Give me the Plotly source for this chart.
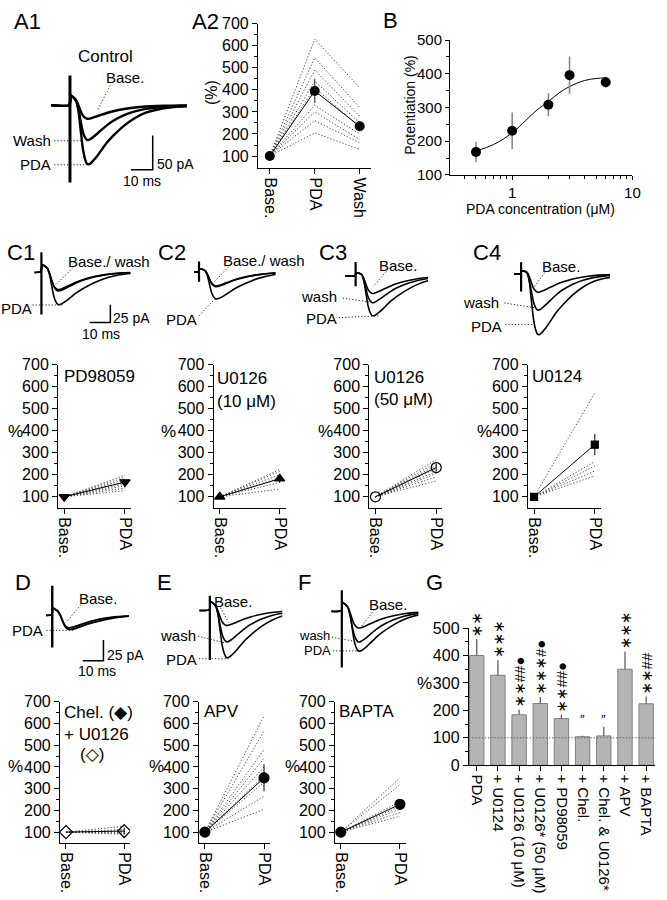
import numpy as np
import plotly.graph_objects as go

W, H = 667, 900
FONT = "Liberation Sans, Arial, DejaVu Sans, sans-serif"
DOT = "1.2px,2px"

# ------------------------------------------------------------------ DATA
# normalised EPSC waveform (time in ms from stimulus)
epsc_t = [-10, -0.3, 0.3, 1, 2, 3, 4, 5, 6, 7, 8, 9, 10, 12, 14, 17, 20, 25, 30, 35, 40, 47, 55, 65]
epsc_fast = [0, 0, 0, 0, 0, -0.02, -0.2, -0.5, -0.78, -0.93, -1.0, -0.99, -0.95, -0.85, -0.74,
             -0.58, -0.45, -0.29, -0.18, -0.11, -0.07, -0.04, -0.02, 0]
epsc_slow = [0, 0, 0, 0, 0, -0.02, -0.15, -0.45, -0.75, -0.92, -1.0, -1.0, -0.97, -0.89, -0.79,
             -0.64, -0.52, -0.35, -0.22, -0.13, -0.08, -0.04, -0.02, 0]
stim_hump = [0, 0, 1, 0.9, 0.7, 0.45, 0.2, 0.05, 0, 0, 0, 0, 0, 0, 0, 0, 0, 0, 0, 0, 0, 0, 0, 0]

# peak amplitudes (pA) per recording, stimulus artefact (+pA, -pA), post-stim hump (pA)
a1_peaks, a1_slow, a1_art, a1_hump = [20, 51, 86], [0, 0, 1], [43, 113], 14
c1_peaks, c1_slow, c1_art, c1_hump = [27, 25, 46], [0, 0, 1], [27, 60], 10
c2_peaks, c2_slow, c2_art, c2_hump = [21, 20, 38], [0, 0, 1], [14, 14], 4
c3_peaks, c3_slow, c3_art, c3_hump = [25, 38, 56], [0, 0, 1], [19, 15], 4
c4_peaks, c4_slow, c4_art, c4_hump = [26, 51, 85], [0, 0, 1], [16, 25], 4
d_peaks, d_slow, d_art, d_hump = [16, 18], [0, 1], [35, 40], 8
e_peaks, e_slow, e_art, e_hump = [19, 39, 58], [0, 0, 1], [17, 61], 10
f_peaks, f_slow, f_art, f_hump = [21, 38, 49], [0, 0, 1], [25, 69], 10

# A2
a2_cats = ["Base.", "PDA", "Wash"]
a2_mean = [100, 395, 235]
a2_sem = [0, 55, 22]
a2_cell_pda = [630, 545, 490, 440, 410, 330, 300, 260, 205]
a2_cell_wash = [410, 320, 280, 250, 230, 200, 175, 160, 130]

# B  dose-response
b_conc = [0.5, 1, 2, 3, 6]
b_pot = [168, 231, 308, 396, 375]
b_err = [30, 54, 34, 55, 16]
b_fit_x = [0.5, 0.7, 1, 1.3, 1.6, 2, 2.5, 3, 4, 5, 6]
b_fit_y = [171, 190, 225, 262, 292, 318, 345, 362, 380, 386, 388]

# paired Base./PDA panels
pair_cats = ["Base.", "PDA"]
c1_mean, c1_sem, c1_cells = [100, 167], 12, [128, 140, 150, 158, 168, 178, 188, 198]
c2_mean, c2_sem, c2_cells = [100, 182], 18, [135, 165, 185, 200, 215, 224]
c3_mean, c3_sem, c3_cells = [100, 233], 18, [172, 190, 205, 215, 228, 242, 255, 269]
c4_mean, c4_sem, c4_cells = [100, 337], 48, [195, 217, 240, 260, 572]
d_mean, d_sem, d_cells = [100, 105], 15, [90, 95, 100, 105, 112, 127]
e_mean, e_sem, e_cells = [100, 350], 62, [205, 265, 330, 360, 400, 440, 480, 565, 635]
f_mean, f_sem, f_cells = [100, 228], 20, [173, 190, 206, 218, 240, 318, 350]

# G summary
g_labels = ["PDA", "+ U0124", "+ U0126 (10 μM)", "+ U0126* (50 μM)", "+ PD98059",
            "+ Chel.", "+ Chel. & U0126*", "+ APV", "+ BAPTA"]
g_vals = [400, 328, 184, 225, 170, 104, 107, 350, 224]
g_err = [60, 55, 18, 24, 14, 4, 33, 65, 27]
g_marks = ["∗∗", "∗∗∗", "∗∗##●", "∗∗∗#●", "∗∗##●", "″", "″", "∗∗∗", "∗∗##"]

# ------------------------------------------------------------------ HELPERS
fig = go.Figure()
axes_layout = {}
annotations = []
shapes = []
HIDDEN = dict(visible=False, showgrid=False, zeroline=False)


def px_x(p):
    return p / W


def px_y(p):
    return 1 - p / H


def keys(i):
    s = "" if i == 1 else str(i)
    return "xaxis" + s, "yaxis" + s, "x" + s, "y" + s


def add_axes(i, xdom, ydom, xspec, yspec):
    xk, yk, xr, yr = keys(i)
    axes_layout[xk] = dict(domain=[max(0, xdom[0]), min(1, xdom[1])], anchor=yr, **xspec)
    axes_layout[yk] = dict(domain=[max(0, ydom[0]), min(1, ydom[1])], anchor=xr, **yspec)
    return xr, yr


def box_axes(i, l, t, r, b, xspec, yspec):
    return add_axes(i, [px_x(l), px_x(r)], [px_y(b), px_y(t)], xspec, yspec)


def txt(s, x, y, size=15, anchor="left", angle=0):
    annotations.append(dict(text=s, x=px_x(x), y=px_y(y), xref="paper", yref="paper",
                            xanchor=anchor, yanchor="middle", showarrow=False, textangle=angle,
                            borderpad=0, font=dict(size=size, color="black", family=FONT)))


def leader(x0, y0, x1, y1):
    shapes.append(dict(type="line", xref="paper", yref="paper", x0=px_x(x0), y0=px_y(y0),
                       x1=px_x(x1), y1=px_y(y1), line=dict(color="#222", width=1, dash=DOT)))


def trace_panel(i, g, peaks, slow, art, hump):
    t0, t1 = g["t"]
    lo = -max(art[1], max(peaks)) - 4
    hi = max(art[0], hump) + 4
    xdom = [px_x(g["x0"] + t0 * g["ms"]), px_x(g["x0"] + t1 * g["ms"])]
    ydom = [px_y(g["y0"] - lo * g["pa"]), px_y(g["y0"] - hi * g["pa"])]
    xr, yr = add_axes(i, xdom, ydom, dict(range=[t0, t1], **HIDDEN), dict(range=[lo, hi], **HIDDEN))
    t = np.array(epsc_t, float)
    for amp, s in zip(peaks, slow):
        shp = np.array(epsc_slow if s else epsc_fast)
        y = hump * np.array(stim_hump) + amp * shp
        fig.add_trace(go.Scatter(x=t, y=y, mode="lines", xaxis=xr, yaxis=yr, hoverinfo="skip",
                                 showlegend=False,
                                 line=dict(color="black", width=g["lw"], shape="spline", smoothing=0.6)))
    fig.add_trace(go.Scatter(x=[0, 0], y=[art[0], -art[1]], mode="lines", xaxis=xr, yaxis=yr,
                             hoverinfo="skip", showlegend=False,
                             line=dict(color="black", width=g["lw"] + 0.6)))


def scalebar(i, left, bottom, pxms, pxpa, ms, pa):
    xdom = [px_x(left - pxms), px_x(left + (ms + 1) * pxms)]
    ydom = [px_y(bottom + 2 * pxpa), px_y(bottom - (pa + 2) * pxpa)]
    xr, yr = add_axes(i, xdom, ydom, dict(range=[-1, ms + 1], **HIDDEN), dict(range=[-2, pa + 2], **HIDDEN))
    fig.add_trace(go.Scatter(x=[0, ms, ms], y=[0, 0, pa], mode="lines", xaxis=xr, yaxis=yr,
                             hoverinfo="skip", showlegend=False, line=dict(color="black", width=1.5)))


AXLINE = dict(showline=True, linecolor="black", linewidth=1.3, showgrid=False, zeroline=False,
              ticks="outside", ticklen=5, tickwidth=1.2, tickcolor="black")


def cat_x(cats, xr, size=16):
    return dict(range=xr, tickmode="array", tickvals=list(range(len(cats))), ticktext=cats,
                tickangle=90, tickfont=dict(size=size, color="black", family=FONT), **AXLINE)


def pct_y(yr, major, minor, size=16):
    return dict(range=yr, tickmode="array", tickvals=major,
                tickfont=dict(size=size, color="black", family=FONT),
                minor=dict(tickmode="array", tickvals=minor, ticks="outside", ticklen=3,
                           tickcolor="black", tickwidth=1), **AXLINE)


PCT_MAJOR = [100, 200, 300, 400, 500, 600, 700]
PCT_MINOR = [150, 250, 350, 450, 550, 650]


def pair_panel(i, box, mean, sem, cells, symbol, msize):
    xr, yr = box_axes(i, *box, cat_x(pair_cats, [-0.1, 1.1]), pct_y([50, 700], PCT_MAJOR, PCT_MINOR))
    xs, ys = [], []
    for v in cells:
        xs += [0, 1, None]
        ys += [100, v, None]
    fig.add_trace(go.Scatter(x=xs, y=ys, mode="lines", xaxis=xr, yaxis=yr, hoverinfo="skip",
                             showlegend=False, line=dict(color="#444", width=1, dash=DOT)))
    fig.add_trace(go.Scatter(x=[0, 1], y=mean, mode="lines+markers", xaxis=xr, yaxis=yr,
                             hoverinfo="skip", showlegend=False,
                             error_y=dict(type="data", array=[0, sem], color="black", thickness=1, width=0),
                             line=dict(color="black", width=1),
                             marker=dict(symbol=symbol, size=msize, color="black",
                                         line=dict(color="black", width=1.2))))


# ------------------------------------------------------------------ A1 traces
trace_panel(1, dict(x0=69, y0=98, ms=2.2, pa=0.7, t=(-8.6, 54), lw=2.4), a1_peaks, a1_slow, a1_art, a1_hump)
scalebar(19, 131, 164, 2.2, 0.7, 10, 50)

# ------------------------------------------------------------------ A2
xr, yr = box_axes(2, 260, 15, 375, 162.4, cat_x(a2_cats, [-0.26, 2.26]),
                  pct_y([45, 700], PCT_MAJOR, PCT_MINOR))
xs, ys = [], []
for p, w in zip(a2_cell_pda, a2_cell_wash):
    xs += [0, 1, 2, None]
    ys += [100, p, w, None]
fig.add_trace(go.Scatter(x=xs, y=ys, mode="lines", xaxis=xr, yaxis=yr, hoverinfo="skip",
                         showlegend=False, line=dict(color="#444", width=1, dash=DOT)))
fig.add_trace(go.Scatter(x=[0, 1, 2], y=a2_mean, mode="lines+markers", xaxis=xr, yaxis=yr,
                         hoverinfo="skip", showlegend=False,
                         error_y=dict(type="data", array=a2_sem, color="#444", thickness=1.2, width=0),
                         line=dict(color="black", width=1), marker=dict(size=10, color="black")))

# ------------------------------------------------------------------ B
BAX = dict(AXLINE, ticklen=4)
bx = dict(type="log", range=[np.log10(0.305), 1.0], tickmode="array", tickvals=[1, 10],
          ticktext=["1", "10"], tickfont=dict(size=15, color="black", family=FONT),
          minor=dict(tickmode="array", tickvals=[0.4, 0.5, 0.6, 0.7, 0.8, 0.9, 2, 3, 4, 5, 6, 7, 8, 9],
                     ticks="outside", ticklen=2.5, tickcolor="black", tickwidth=1), **BAX)
by = pct_y([100, 500], [100, 200, 300, 400, 500], [150, 250, 350, 450], size=15)
by["ticklen"] = 4
xr, yr = box_axes(3, 455, 31.7, 640, 169.3, bx, by)
fig.add_trace(go.Scatter(x=b_fit_x, y=b_fit_y, mode="lines", xaxis=xr, yaxis=yr, hoverinfo="skip",
                         showlegend=False, line=dict(color="black", width=1, shape="spline")))
fig.add_trace(go.Scatter(x=b_conc, y=b_pot, mode="markers", xaxis=xr, yaxis=yr, hoverinfo="skip",
                         showlegend=False,
                         error_y=dict(type="data", array=b_err, color="#888", thickness=1.6, width=0),
                         marker=dict(size=10, color="black")))

# ------------------------------------------------------------------ C traces
trace_panel(4, dict(x0=40, y0=268, ms=2.1, pa=0.73, t=(-3.3, 43), lw=1.6), c1_peaks, c1_slow, c1_art, c1_hump)
trace_panel(5, dict(x0=200, y0=268, ms=2.1, pa=0.73, t=(-2.4, 37), lw=1.6), c2_peaks, c2_slow, c2_art, c2_hump)
trace_panel(6, dict(x0=359, y0=272, ms=2.1, pa=0.73, t=(-5, 35), lw=1.6), c3_peaks, c3_slow, c3_art, c3_hump)
trace_panel(7, dict(x0=527, y0=270, ms=2.1, pa=0.73, t=(-3.3, 43), lw=1.6), c4_peaks, c4_slow, c4_art, c4_hump)
scalebar(20, 89, 320, 2.1, 0.73, 10, 25)

# ------------------------------------------------------------------ C plots
pair_panel(8, (57, 363, 131, 509), c1_mean, c1_sem, c1_cells, "triangle-down", 9)
pair_panel(9, (215, 363, 288, 509), c2_mean, c2_sem, c2_cells, "triangle-up", 9)
pair_panel(10, (373, 363, 447, 509), c3_mean, c3_sem, c3_cells, "circle-open", 10)
pair_panel(11, (534, 363, 608, 509), c4_mean, c4_sem, c4_cells, "square", 7)

# ------------------------------------------------------------------ D E F traces
trace_panel(12, dict(x0=51, y0=618, ms=2.1, pa=0.84, t=(-3, 37), lw=1.8), d_peaks, d_slow, d_art, d_hump)
trace_panel(13, dict(x0=211, y0=613, ms=2.1, pa=0.84, t=(-5, 35), lw=1.6), e_peaks, e_slow, e_art, e_hump)
trace_panel(14, dict(x0=345, y0=614, ms=2.1, pa=0.84, t=(-5, 37), lw=1.6), f_peaks, f_slow, f_art, f_hump)
scalebar(21, 82, 665, 2.1, 0.84, 10, 25)

# ------------------------------------------------------------------ D E F plots
pair_panel(15, (59, 707, 130, 851), d_mean, d_sem, d_cells, "diamond-open", 10)
pair_panel(16, (200, 707, 272, 851), e_mean, e_sem, e_cells, "circle", 10)
pair_panel(17, (338, 707, 410, 851), f_mean, f_sem, f_cells, "circle", 10)

# ------------------------------------------------------------------ G
gx = dict(range=[-0.37, 8.42], tickmode="array", tickvals=list(range(len(g_labels))), ticktext=g_labels,
          tickangle=90, tickfont=dict(size=15, color="black", family=FONT), **AXLINE)
gy = pct_y([0, 500], [0, 100, 200, 300, 400, 500], [50, 150, 250, 350, 450])
xr, yr = box_axes(18, 474, 631.7, 663, 771.7, gx, gy)
fig.add_trace(go.Bar(x=list(range(len(g_vals))), y=g_vals, width=0.68, xaxis=xr, yaxis=yr,
                     hoverinfo="skip", showlegend=False,
                     marker=dict(color="#b4b4b4", line=dict(color="#808080", width=1)),
                     error_y=dict(type="data", symmetric=False, array=g_err, arrayminus=[0] * len(g_err),
                                  color="#555", thickness=1.2, width=0)))
shapes.append(dict(type="line", xref="paper", yref=yr, x0=px_x(474), x1=px_x(663), y0=100, y1=100,
                   line=dict(color="#555", width=1, dash=DOT)))
for k, (v, e, m) in enumerate(zip(g_vals, g_err, g_marks)):
    if m == "″":
        annotations.append(dict(text=m, x=k, y=168, xref=xr, yref=yr, showarrow=False,
                                xanchor="center", yanchor="middle",
                                font=dict(size=13, color="black", family=FONT)))
    else:
        annotations.append(dict(text=m, x=k, y=v + e, xref=xr, yref=yr, showarrow=False,
                                xanchor="center", yanchor="bottom", textangle=-90, yshift=1,
                                borderpad=0, font=dict(size=15, color="black", family=FONT)))

# ------------------------------------------------------------------ TEXT
for lab, x, y in [("A1", 11, 13), ("A2", 192, 13), ("B", 386, 12), ("C1", 4, 248), ("C2", 157, 248),
                  ("C3", 321, 248), ("C4", 477, 248), ("D", 12, 585), ("E", 156, 585), ("F", 299, 585),
                  ("G", 429, 585)]:
    txt(lab, x, y, size=22)

# A1
txt("Control", 76, 48, 17)
txt("Base.", 105, 70)
txt("Wash", 51, 134, anchor="right")
txt("PDA", 51, 159, anchor="right")
txt("50 pA", 156, 158, 14)
txt("10 ms", 142, 176, 14, anchor="center")
leader(110, 78, 97, 103)
leader(53, 134.5, 82, 134.5)
leader(53, 159, 88, 159)
# A2 / B
txt("(%)", 212, 85, 16, anchor="center", angle=-90)
txt("Potentiation (%)", 414, 98, 14, anchor="center", angle=-90)
txt("PDA concentration (μM)", 547, 204, 14, anchor="center")

# C traces
txt("Base./ wash", 66, 258)
txt("PDA", 31, 306, anchor="right")
txt("25 pA", 112, 315, 14)
txt("10 ms", 100, 332, 14, anchor="center")
leader(72, 264, 55, 281)
leader(31, 302, 63, 302)
txt("Base./ wash", 223, 257)
txt("PDA", 199, 317, anchor="right")
leader(230, 263, 215, 279)
leader(200, 313, 217, 295)
txt("Base.", 382, 262)
txt("wash", 341, 293, anchor="right")
txt("PDA", 341, 316, anchor="right")
leader(390, 268, 377, 283)
leader(346, 295, 373, 299)
leader(342, 315, 382, 313)
txt("Base.", 547, 263)
txt("wash", 506, 299, anchor="right")
txt("PDA", 509, 324, anchor="right")
leader(551, 269, 540, 284)
leader(510, 300, 542, 305)
leader(511, 322, 540, 322)

# C plots labels
txt("PD98059", 62, 375, 17)
txt("U0126", 217, 377, 17)
txt("(10 μM)", 217, 400, 17)
txt("U0126", 377, 376, 17)
txt("(50 μM)", 377, 398, 17)
txt("U0124", 537, 375, 17)
for x in (14, 169, 328, 490):
    txt("%", x, 431, 17, anchor="center")

# D E F traces
txt("Base.", 77, 602)
txt("PDA", 43, 634, anchor="right")
txt("25 pA", 106, 659, 14)
txt("10 ms", 96, 675, 14, anchor="center")
leader(80, 608, 66, 625)
leader(45, 634, 72, 634)
txt("Base.", 214, 605)
txt("wash", 198, 639, anchor="right")
txt("PDA", 199, 664, anchor="right")
leader(222, 611, 230, 626)
leader(199, 640, 227, 647)
leader(200, 663, 230, 663)
txt("Base.", 372, 608)
txt("wash", 334, 639, 13, anchor="right")
txt("PDA", 335, 655, 13, anchor="right")
leader(378, 613, 365, 630)
leader(335, 641, 362, 646)
leader(336, 655, 365, 655)

# D E F plot labels
txt("Chel. (◆)", 62, 718, 17)
txt("+ U0126", 62, 740, 17)
txt("(◇)", 78, 761, 17)
txt("APV", 204, 717, 17)
txt("BAPTA", 341, 717, 17)
for x in (14, 157, 295):
    txt("%", x, 773, 17, anchor="center")
txt("%", 429, 688, 17, anchor="center")

fig.update_layout(width=W, height=H, margin=dict(l=0, r=0, t=0, b=0), paper_bgcolor="white",
                  plot_bgcolor="rgba(0,0,0,0)", font=dict(family=FONT, color="black"),
                  showlegend=False, annotations=annotations, shapes=shapes, **axes_layout)
fig.write_html("out.html", config={"displayModeBar": False},
               post_script="document.body.style.margin='0';document.body.style.overflow='hidden';")
